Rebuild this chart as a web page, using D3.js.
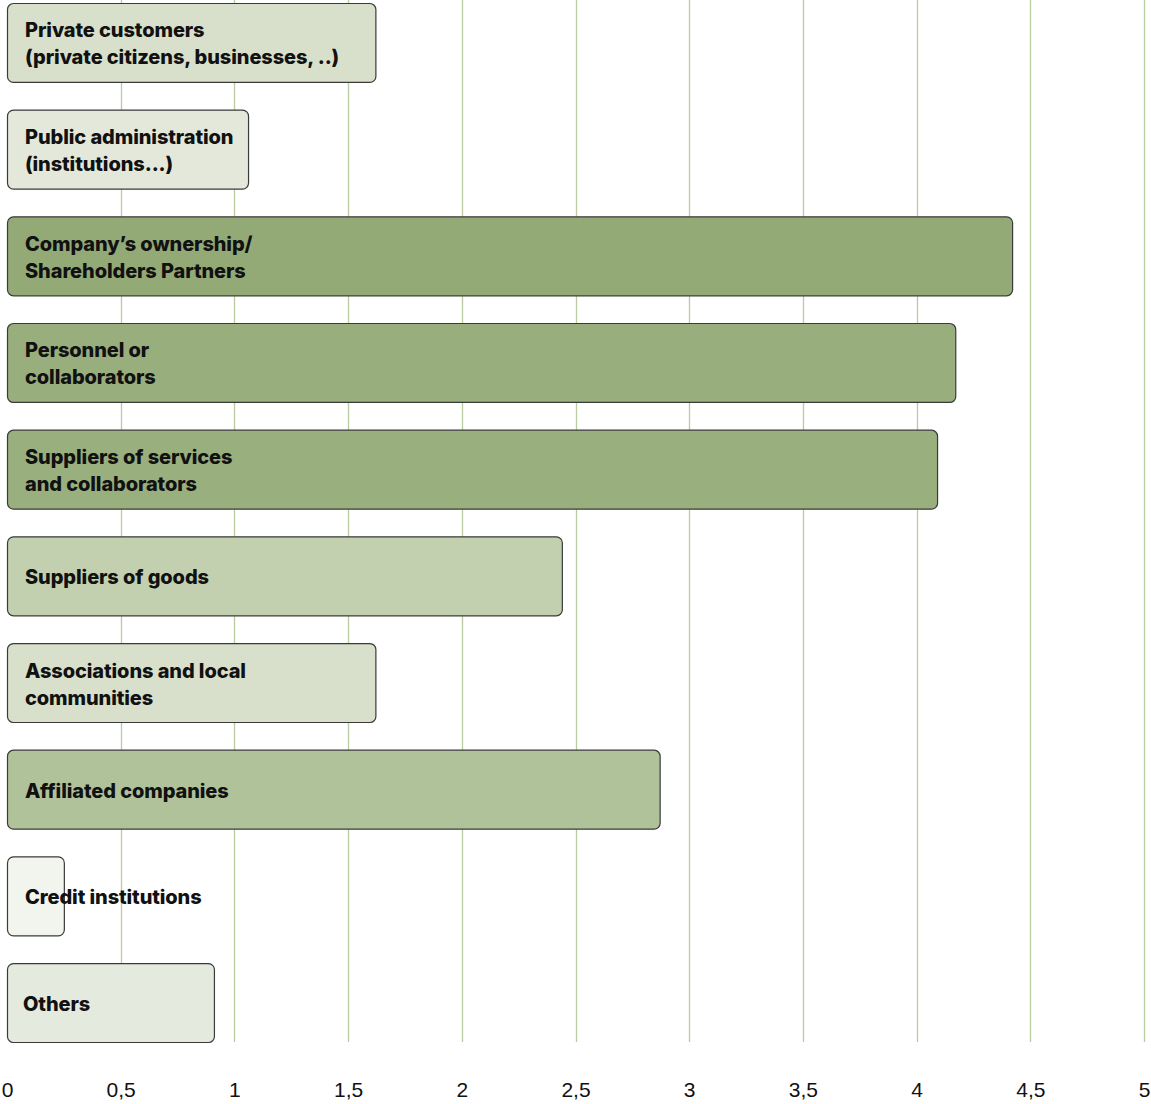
<!DOCTYPE html>
<html><head><meta charset="utf-8">
<script src="https://cdn.jsdelivr.net/npm/d3@7"></script>
<style>html,body{margin:0;padding:0;background:#fff;}svg{display:block;}</style>
</head><body>
<script>
const categories = [
  ["Private customers", "(private citizens, businesses, ..)"],
  ["Public administration", "(institutions...)"],
  ["Company\u2019s ownership/", "Shareholders Partners"],
  ["Personnel or", "collaborators"],
  ["Suppliers of services", "and collaborators"],
  ["Suppliers of goods"],
  ["Associations and local", "communities"],
  ["Affiliated companies"],
  ["Credit institutions"],
  ["Others"]
];
const values = [1.62, 1.06, 4.42, 4.17, 4.09, 2.44, 1.62, 2.87, 0.25, 0.91];
const ticks = [0, 0.5, 1, 1.5, 2, 2.5, 3, 3.5, 4, 4.5, 5];

const W = 1151, H = 1104;
const svg = d3.select("body").append("svg").attr("width", W).attr("height", H);
const x = d3.scaleLinear().domain([0, 5]).range([7, 1144]);
const y = d3.scaleBand().domain(d3.range(categories.length)).range([3, 1042]).paddingInner(0.26).paddingOuter(0);
const color = d3.scaleLinear().domain([0.25, 1.62, 2.44, 2.87, 4.42]).range(["#f2f4ee", "#d8e0cc", "#c3d0b0", "#b0c29a", "#93aa76"]);

// gridlines
svg.append("g").selectAll("line").data(ticks.filter(t => t > 0)).join("line")
  .attr("x1", d => Math.round(x(d)) + 0.5).attr("x2", d => Math.round(x(d)) + 0.5)
  .attr("y1", 0).attr("y2", 1042)
  .attr("stroke", "#b9cb9f").attr("stroke-width", 1.3);

// axis labels
const axis = d3.axisBottom(x).tickValues(ticks).tickSize(0).tickPadding(0)
  .tickFormat(d => String(d).replace(".", ","));
const ag = svg.append("g").attr("transform", "translate(0,1081)").call(axis);
ag.select(".domain").remove();
ag.selectAll("text").attr("font-family", "'Liberation Sans', Arial, sans-serif")
  .attr("font-size", 21).attr("fill", "#111").attr("dy", "0.75em");

// bars
const g = svg.append("g");
g.selectAll("rect").data(values).join("rect")
  .attr("x", x(0) + 0.5).attr("y", (d, i) => y(i) + 0.5)
  .attr("width", d => x(d) - x(0)).attr("height", y.bandwidth())
  .attr("rx", 6).attr("ry", 6)
  .attr("fill", d => color(d)).attr("stroke", "#3a3a3a").attr("stroke-width", 1.2);

// labels
const lg = svg.append("g");
categories.forEach((lines, i) => {
  const cy = y(i) + y.bandwidth() / 2 + 1.5;
  const n = lines.length;
  const t = lg.append("text")
    .attr("font-family", "Inter, 'Noto Sans', sans-serif").attr("font-weight", 800)
    .attr("font-size", 20).attr("fill", "#111").attr("letter-spacing", "-0.1px");
  lines.forEach((l, k) => {
    t.append("tspan").attr("x", i === 9 ? 23 : 25)
      .attr("y", cy + (k - (n - 1) / 2) * 27).attr("dy", "0.35em").text(l);
  });
});
</script>
</body></html>
